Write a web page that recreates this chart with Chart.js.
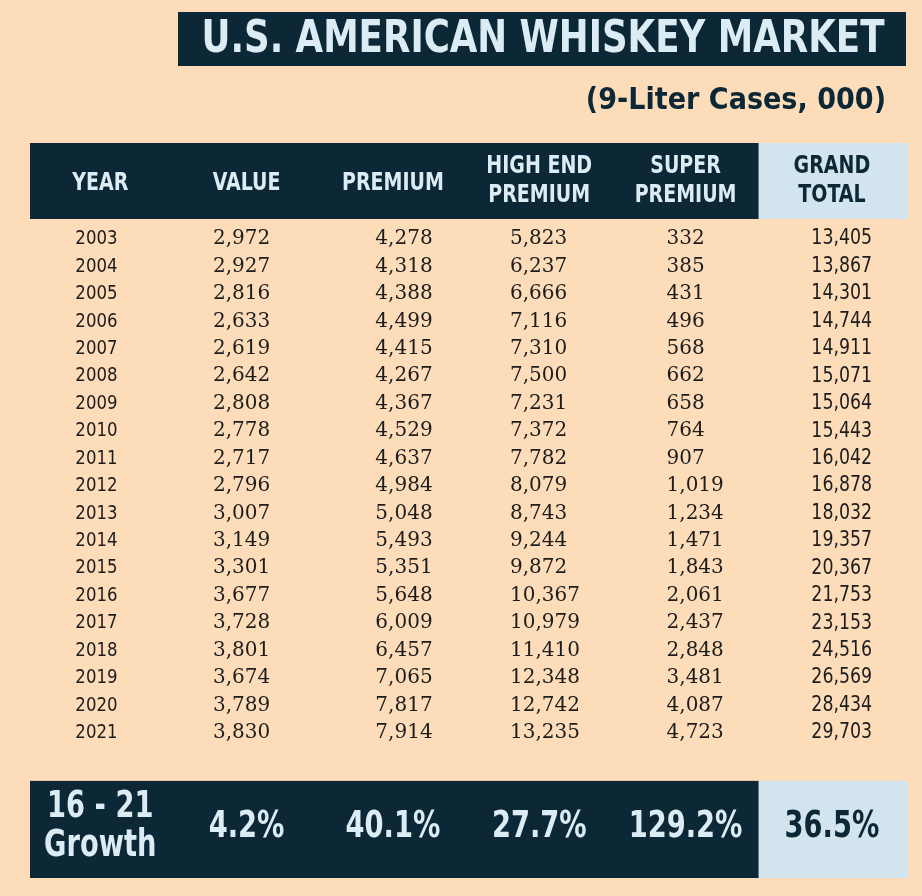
<!DOCTYPE html>
<html>
<head>
<meta charset="utf-8">
<script src="https://cdn.jsdelivr.net/npm/chart.js@4.4.0/dist/chart.umd.min.js"></script>
<style>
  html, body { margin: 0; background: #fcdcb9; }
  canvas { display: block; }
</style>
</head>
<body>
<canvas id="whiskeyTable" width="922" height="896"></canvas>
<script>
// Table data (9-liter cases, 000)
const years = [2003, 2004, 2005, 2006, 2007, 2008, 2009, 2010, 2011, 2012, 2013, 2014, 2015, 2016, 2017, 2018, 2019, 2020, 2021];
const valueCases = [2972, 2927, 2816, 2633, 2619, 2642, 2808, 2778, 2717, 2796, 3007, 3149, 3301, 3677, 3728, 3801, 3674, 3789, 3830];
const premiumCases = [4278, 4318, 4388, 4499, 4415, 4267, 4367, 4529, 4637, 4984, 5048, 5493, 5351, 5648, 6009, 6457, 7065, 7817, 7914];
const highEndCases = [5823, 6237, 6666, 7116, 7310, 7500, 7231, 7372, 7782, 8079, 8743, 9244, 9872, 10367, 10979, 11410, 12348, 12742, 13235];
const superCases = [332, 385, 431, 496, 568, 662, 658, 764, 907, 1019, 1234, 1471, 1843, 2061, 2437, 2848, 3481, 4087, 4723];
const grandTotal = [13405, 13867, 14301, 14744, 14911, 15071, 15064, 15443, 16042, 16878, 18032, 19357, 20367, 21753, 23153, 24516, 26569, 28434, 29703];
const growthPct = [4.2, 40.1, 27.7, 129.2, 36.5];

const headerLabels = [['YEAR'], ['VALUE'], ['PREMIUM'], ['HIGH END', 'PREMIUM'], ['SUPER', 'PREMIUM'], ['GRAND', 'TOTAL']];
const growthLabel = ['16 - 21', 'Growth'];
const titleText = 'U.S. AMERICAN WHISKEY MARKET';
const subtitleText = '(9-Liter Cases, 000)';

const NAVY = '#0c2837';
const LIGHT = '#d2e4ee';
const PALE_TEXT = '#dcecf4';
const INK = '#1c1c1c';

const columns = [years, valueCases, premiumCases, highEndCases, superCases, grandTotal];
// where each column's numbers sit, relative to the column centre (column units)
const cellAnchor = [
    { off: -0.17, align: 'left', font: '20px "DejaVu Sans Condensed"' },
    { off: -0.23, align: 'left', font: '20px "DejaVu Serif"' },
    { off: -0.12, align: 'left', font: '20px "DejaVu Serif"' },
    { off: -0.20, align: 'left', font: '20px "DejaVu Serif"' },
    { off: -0.13, align: 'left', font: '20px "DejaVu Serif"' },
    { off: 0.275, align: 'right', font: '21px "DejaVu Sans Condensed"' }
];

function fmt(n) {
    return n.toLocaleString('en-US');
}

// text with a horizontal squeeze, to get the narrow DIN look
function put(ctx, text, x, y, font, color, align, sx) {
    ctx.save();
    ctx.font = font;
    ctx.fillStyle = color;
    ctx.textAlign = align;
    ctx.textBaseline = 'middle';
    ctx.translate(x, y);
    ctx.scale(sx || 1, 1);
    ctx.fillText(text, 0, 0);
    ctx.restore();
}

const tablePlugin = {
    id: 'tablePlugin',
    beforeDraw(chart) {
        const ctx = chart.ctx;
        const xs = chart.scales.x;
        const ys = chart.scales.y;
        ctx.save();
        ctx.fillStyle = '#fcdcb9';
        ctx.fillRect(0, 0, chart.width, chart.height);

        // title bar
        ctx.fillStyle = NAVY;
        ctx.fillRect(178, 12, 728, 54);
        put(ctx, titleText, 543, 40, 'bold 45px "DejaVu Sans Condensed"', PALE_TEXT, 'center', 0.88);
        put(ctx, subtitleText, 886, 101, 'bold 31px "DejaVu Sans Condensed"', NAVY, 'right', 0.97);

        // header and growth bands: dark part, light "grand total" part
        const left = xs.getPixelForValue(-0.48);
        const split = xs.getPixelForValue(4.5);
        const right = xs.getPixelForValue(5.52);
        const bands = [[-3.5, -0.73], [19.75, 23.29]];
        bands.forEach(([a, b]) => {
            const top = ys.getPixelForValue(a);
            const bot = ys.getPixelForValue(b);
            ctx.fillStyle = NAVY;
            ctx.fillRect(left, top, split - left, bot - top);
            ctx.fillStyle = LIGHT;
            ctx.fillRect(split, top, right - split, bot - top);
        });
        ctx.restore();
    },
    afterDraw(chart) {
        const ctx = chart.ctx;
        const xs = chart.scales.x;
        const ys = chart.scales.y;

        // header labels
        headerLabels.forEach((lines, c) => {
            const x = xs.getPixelForValue(c);
            const color = c === 5 ? NAVY : PALE_TEXT;
            const rows = lines.length === 1 ? [-2.02] : [-2.62, -1.57];
            lines.forEach((t, k) => {
                put(ctx, t, x, ys.getPixelForValue(rows[k]), 'bold 24px "DejaVu Sans Condensed"', color, 'center', 0.88);
            });
        });

        // body cells
        columns.forEach((col, c) => {
            const a = cellAnchor[c];
            const x = xs.getPixelForValue(c + a.off);
            col.forEach((v, r) => {
                const t = c === 0 ? String(v) : fmt(v);
                put(ctx, t, x, ys.getPixelForValue(r), a.font, INK, a.align, c === 0 || c === 5 ? 0.92 : 1);
            });
        });

        // growth row
        put(ctx, growthLabel[0], xs.getPixelForValue(0), ys.getPixelForValue(20.72), 'bold 37px "DejaVu Sans Condensed"', PALE_TEXT, 'center', 0.82);
        put(ctx, growthLabel[1], xs.getPixelForValue(0), ys.getPixelForValue(22.15), 'bold 37px "DejaVu Sans Condensed"', PALE_TEXT, 'center', 0.82);
        growthPct.forEach((g, i) => {
            const c = i + 1;
            put(ctx, g.toFixed(1) + '%', xs.getPixelForValue(c), ys.getPixelForValue(21.45),
                'bold 37px "DejaVu Sans Condensed"', c === 5 ? NAVY : PALE_TEXT, 'center', 0.82);
        });
    }
};

// one invisible point per cell keeps the table on the chart's own scales
const datasets = columns.map((col, c) => ({
    label: headerLabels[c].join(' '),
    data: col.map((v, r) => ({ x: c, y: r })),
    pointRadius: 0
}));

new Chart(document.getElementById('whiskeyTable'), {
    type: 'scatter',
    data: { datasets: datasets },
    options: {
        responsive: false,
        animation: false,
        layout: { padding: { left: 30, right: 14, top: 143, bottom: 18 } },
        plugins: {
            legend: { display: false },
            tooltip: { enabled: false },
            title: { display: false }
        },
        scales: {
            x: { type: 'linear', display: false, min: -0.48, max: 5.52 },
            y: { type: 'linear', display: false, reverse: true, min: -3.5, max: 23.29 }
        }
    },
    plugins: [tablePlugin]
});
</script>
</body>
</html>
